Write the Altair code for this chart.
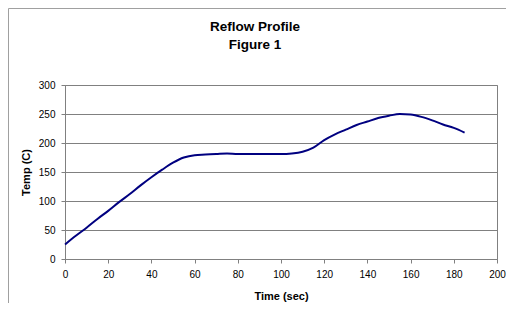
import altair as alt
import pandas as pd

time_sec = [0, 5, 10, 15, 20, 25, 30, 35, 40, 45, 50, 55, 60, 65, 70, 75, 80, 85, 90,
            95, 100, 105, 110, 115, 120, 125, 130, 135, 140, 145, 150, 155, 160, 165,
            170, 175, 180, 185]
temp_c = [25, 40, 54, 69, 83, 98, 112, 127, 141, 154, 166, 175, 179, 180, 181, 182, 181,
          181, 181, 181, 181, 182, 185, 192, 205, 215, 223, 231, 237, 243, 247, 250, 249,
          245, 239, 232, 226, 218]
x_ticks = list(range(0, 201, 20))
y_ticks = list(range(0, 301, 50))
title_lines = ["Reflow Profile", "Figure 1"]

df = pd.DataFrame({"t": time_sec, "T": temp_c})
FONT = "Liberation Sans"

line = alt.Chart(df).mark_line(color="#000080", strokeWidth=2, interpolate="monotone").encode(
    x=alt.X("t:Q", scale=alt.Scale(domain=[0, 200], nice=False),
            axis=alt.Axis(values=x_ticks, title="Time (sec)", grid=False)),
    y=alt.Y("T:Q", scale=alt.Scale(domain=[0, 300], nice=False),
            axis=alt.Axis(values=y_ticks, title="Temp (C)", grid=True)),
)

one = pd.DataFrame({"a": [0]})
frame_left = alt.Chart(one).mark_rule(color="#a0a0a0", strokeWidth=1).encode(
    x=alt.value(-56.5), y=alt.value(-76.5), y2=alt.value(240))
frame_top = alt.Chart(one).mark_rule(color="#a0a0a0", strokeWidth=1).encode(
    x=alt.value(-56.5), x2=alt.value(450), y=alt.value(-76.5))

title1 = alt.Chart(one).mark_text(font=FONT, fontSize=13.5, fontWeight="bold",
                                  color="#000000", align="center", baseline="middle").encode(
    text=alt.value(title_lines[0]), x=alt.value(190), y=alt.value(-58))
title2 = alt.Chart(one).mark_text(font=FONT, fontSize=13.5, fontWeight="bold",
                                  color="#000000", align="center", baseline="middle").encode(
    text=alt.value(title_lines[1]), x=alt.value(190), y=alt.value(-40))

chart = alt.layer(frame_left, frame_top, title1, title2, line).properties(
    width=432, height=174,
    padding={"left": 57, "top": 77, "right": 9, "bottom": 44},
    autosize=alt.AutoSizeParams(type="none"),
).configure_view(stroke="#808080", strokeWidth=1).configure_axis(
    labelFont=FONT, labelFontSize=10, labelColor="#000000", labelFlush=False,
    titleFont=FONT, titleFontSize=11, titleFontWeight="bold", titleColor="#000000",
    domainColor="#808080", tickColor="#808080", tickSize=4, labelPadding=6,
    gridColor="#808080", gridWidth=1,
).configure_axisX(titlePadding=11).configure_axisY(titlePadding=6.5)

chart.save("out.html", embed_options={"renderer": "svg", "actions": False})
